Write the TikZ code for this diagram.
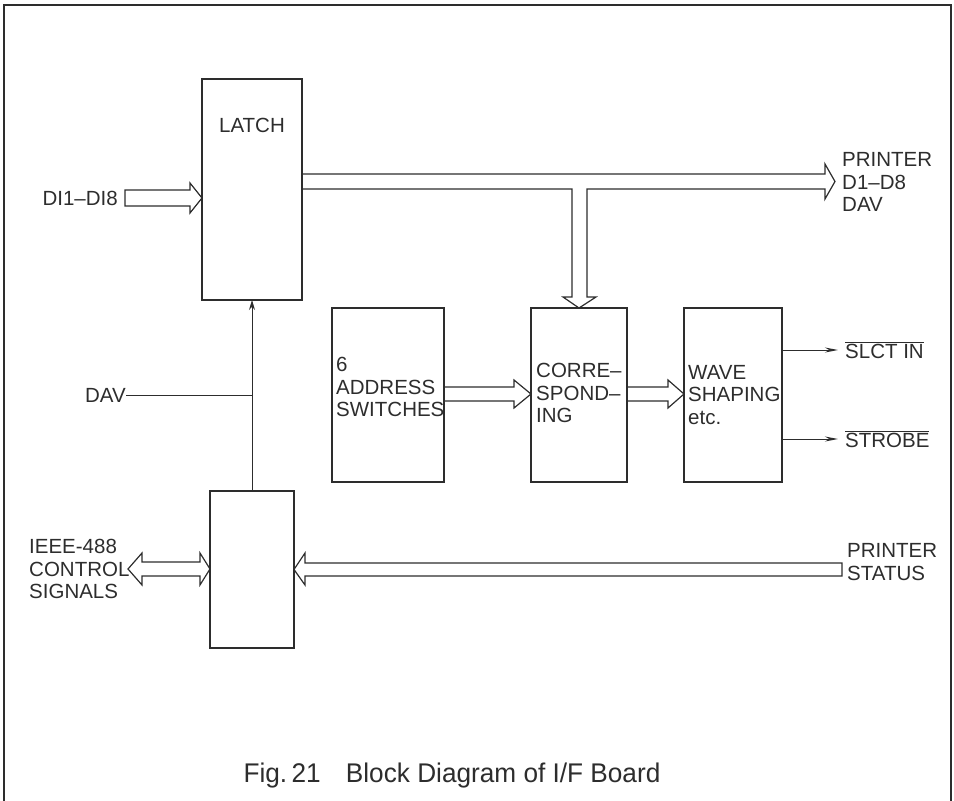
\documentclass[tikz,border=0pt]{standalone}
\usepackage{fontspec}
\setmainfont{Liberation Sans}
\usetikzlibrary{arrows.meta,calc}
\definecolor{ink}{RGB}{45,45,45}
\tikzset{
  boxnode/.style={draw=ink, line width=1.7pt, rectangle, anchor=north west, inner sep=0pt, outer sep=0pt},
  lbl/.style={text=ink, font=\fontsize{20.5}{22.5}\selectfont, inner sep=0pt, align=left},
  busline/.style={draw=ink, line width=1.2pt, line join=miter},
  thin/.style={draw=ink, line width=1pt},
  frameline/.style={draw=ink, line width=1.4pt}
}
\begin{document}
\begin{tikzpicture}[x=1pt,y=-1pt]
\useasboundingbox (0,0) rectangle (954,801);
\draw[frameline] (4,806) -- (4,5) -- (951,5) -- (951,806);

% boxes
\node[boxnode, minimum width=100pt, minimum height=221pt] (latch) at (202,79) {};
\node[boxnode, minimum width=112pt, minimum height=174pt] (addr) at (332,308) {};
\node[boxnode, minimum width=96pt, minimum height=174pt] (corr) at (531,308) {};
\node[boxnode, minimum width=98pt, minimum height=174pt] (wave) at (684,308) {};
\node[boxnode, minimum width=84pt, minimum height=157pt] (ctrl) at (210,491) {};

% labels
\node[lbl] (latchtxt) at (252,125) {LATCH};
\node[lbl, anchor=east] (di) at (118,198) {DI1--DI8};
\node[lbl, anchor=west] (prn) at (842,182) {PRINTER\\D1--D8\\DAV};
\node[lbl, anchor=east] (dav) at (126,395) {DAV};
\node[lbl, anchor=west] (ieee) at (29,569) {IEEE-488\\CONTROL\\SIGNALS};
\node[lbl, anchor=west] (stat) at (847,562) {PRINTER\\STATUS};
\node[lbl, anchor=west] (slct) at (845,350) {$\overline{\mbox{SLCT IN}}$};
\node[lbl, anchor=west] (strobe) at (845,439) {$\overline{\mbox{STROBE}}$};
\node[lbl, anchor=west] (addrtxt) at (336,387) {6\\ADDRESS\\SWITCHES};
\node[lbl, anchor=west] (corrtxt) at (536,393) {CORRE--\\SPOND--\\ING};
\node[lbl, anchor=west] (wavetxt) at (688,395) {WAVE\\SHAPING\\etc.};
\node[text=ink, font=\fontsize{27}{31}\selectfont, inner sep=0pt] (cap) at (452,776)
  {\scalebox{0.97}[1]{Fig.\,21\hspace{26pt}Block Diagram of I/F Board}};

% DI bus arrow into latch
\draw[busline] (125,190) -- (190,190) -- (190,183) -- (latch.west |- 0,198) -- (190,213) -- (190,206) -- (125,206) -- cycle;

% main bus with branch down to corr
\draw[busline] (latch.east |- 0,174) -- (825,174) -- (825,164) -- (835,181.5) -- (825,199) -- (825,189)
  -- (587,189) -- (587,297) -- (596,297) -- (corr.north) -- (563,297) -- (572,297) -- (572,189)
  -- (latch.east |- 0,189);

% addr -> corr
\draw[busline] (addr.east |- 0,387) -- (514,387) -- (514,380) -- (corr.west |- 0,394) -- (514,408) -- (514,401) -- (addr.east |- 0,401);
% corr -> wave
\draw[busline] (corr.east |- 0,387) -- (668,387) -- (668,380) -- (wave.west |- 0,394) -- (668,408) -- (668,401) -- (corr.east |- 0,401);

% IEEE double arrow
\draw[busline] (128,569) -- (142,553) -- (142,562) -- (200,562) -- (200,553) -- (ctrl.west |- 0,569)
  -- (200,585) -- (200,576) -- (142,576) -- (142,585) -- cycle;

% printer status arrow
\draw[busline] (842,563) -- (305,563) -- (305,553) -- (ctrl.east |- 0,569.5) -- (305,585) -- (305,576) -- (842,576) -- cycle;

% DAV lines
\coordinate (davj) at (ctrl.north |- dav.east);
\draw[thin] (dav.east) -- (davj);
\draw[thin, -{Stealth[length=10pt,width=6pt]}] (ctrl.north) -- (latch.south);

% output signals
\coordinate (slctend) at (838,350);
\coordinate (strobeend) at (838,439);
\draw[thin, -{Stealth[length=13pt,width=5pt]}] (wave.east |- slctend) -- (slctend);
\draw[thin, -{Stealth[length=13pt,width=5pt]}] (wave.east |- strobeend) -- (strobeend);
\end{tikzpicture}
\end{document}
